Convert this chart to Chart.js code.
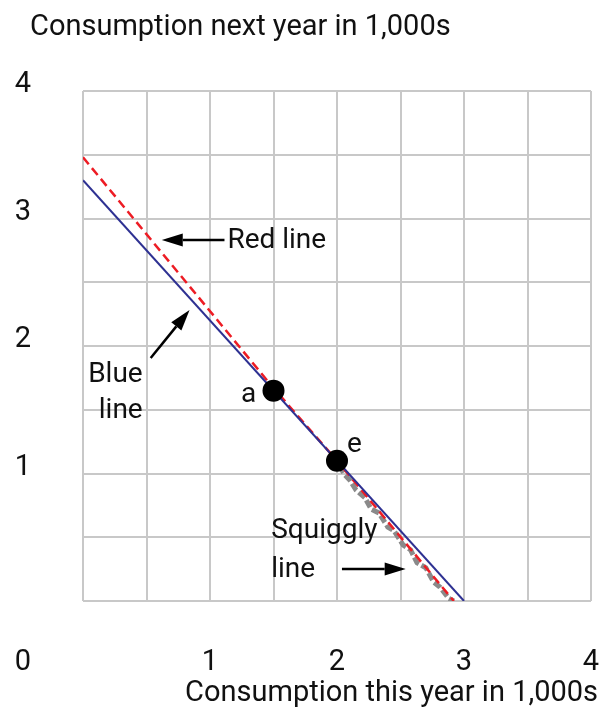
<!DOCTYPE html>
<html>
<head>
<meta charset="utf-8">
<script src="https://cdn.jsdelivr.net/npm/chart.js@4.4.1/dist/chart.umd.min.js"></script>
<style>
  body { margin: 0; background: #fff; }
  #wrap { width: 602px; height: 710px; }
</style>
</head>
<body>
<div id="wrap"><canvas id="grafico" width="602" height="710"></canvas></div>
<script>
// dados
const xTicks = [1, 2, 3, 4];
const yTicks = [1, 2, 3, 4];

const blueX = [0, 3];
const blueY = [3.3, 0];

const redX = [0, 1.5, 2, 2.92];
const redY = [3.48, 1.67, 1.1, 0];

const squigX = [2.02, 2.06, 2.10, 2.15, 2.22, 2.27, 2.33, 2.40, 2.45, 2.52, 2.58, 2.63, 2.70, 2.76, 2.81, 2.88, 2.92];
const squigY = [1.06, 0.99, 0.95, 0.87, 0.81, 0.72, 0.69, 0.58, 0.55, 0.44, 0.40, 0.30, 0.26, 0.15, 0.11, 0.02, 0.0];

const pontosNomes = ["a", "e"];
const pontosX = [1.5, 2.0];
const pontosY = [1.65, 1.1];

const tituloY = "Consumption next year in 1,000s";
const tituloX = "Consumption this year in 1,000s";

const FONTE = "'Roboto', 'Liberation Sans', sans-serif";

function pares(xs, ys) { return xs.map((x, i) => ({ x: x, y: ys[i] })); }

// textos e setas por cima do grafico (posicoes em unidades do grafico)
const textosPlugin = {
  id: "textos",
  afterDraw(chart) {
    const ctx = chart.ctx;
    const sx = chart.scales.x, sy = chart.scales.y;
    const px = v => sx.getPixelForValue(v);
    const py = v => sy.getPixelForValue(v);

    ctx.save();
    ctx.fillStyle = "#111";
    ctx.textBaseline = "alphabetic";

    // titulos
    ctx.font = "29px " + FONTE;
    ctx.textAlign = "left";
    ctx.fillText(tituloY, 30, 35);
    ctx.textAlign = "right";
    ctx.fillText(tituloX, 598, 701);

    // rotulos dos eixos
    ctx.textAlign = "center";
    yTicks.forEach(v => ctx.fillText(String(v), 23, py(v) + 1));
    ctx.fillText("0", 23, 670);
    xTicks.forEach(v => ctx.fillText(String(v), px(v), 670));

    // anotacoes
    ctx.font = "28px " + FONTE;
    ctx.textAlign = "left";
    ctx.fillText("Red line", px(1.137), py(2.77));
    ctx.textAlign = "right";
    ctx.fillText("Blue", px(0.47), py(1.718));
    ctx.fillText("line", px(0.47), py(1.435));
    ctx.fillText(pontosNomes[0], px(1.365), py(1.561));
    ctx.textAlign = "left";
    ctx.fillText(pontosNomes[1], px(2.078), py(1.169));
    ctx.fillText("Squiggly", px(1.482), py(0.494));
    ctx.fillText("line", px(1.482), py(0.188));

    seta(ctx, px(1.114), py(2.831), px(0.62), py(2.831));
    seta(ctx, px(0.533), py(1.906), px(0.839), py(2.282));
    seta(ctx, px(2.039), py(0.251), px(2.541), py(0.251));
    ctx.restore();
  }
};

function seta(ctx, x0, y0, x1, y1) {
  const ang = Math.atan2(y1 - y0, x1 - x0);
  const L = 21, W = 6.5;
  const bx = x1 - L * Math.cos(ang), by = y1 - L * Math.sin(ang);
  ctx.strokeStyle = "#000";
  ctx.lineWidth = 2.5;
  ctx.beginPath();
  ctx.moveTo(x0, y0);
  ctx.lineTo(bx, by);
  ctx.stroke();
  ctx.fillStyle = "#000";
  ctx.beginPath();
  ctx.moveTo(x1, y1);
  ctx.lineTo(bx - W * Math.sin(ang), by + W * Math.cos(ang));
  ctx.lineTo(bx + W * Math.sin(ang), by - W * Math.cos(ang));
  ctx.closePath();
  ctx.fill();
  ctx.fillStyle = "#111";
}

new Chart(document.getElementById("grafico"), {
  type: "scatter",
  data: {
    datasets: [
      {
        label: "pontos",
        data: pares(pontosX, pontosY),
        pointRadius: 11,
        pointBackgroundColor: "#000",
        pointBorderWidth: 0,
        showLine: false,
        order: 0
      },
      {
        label: "Blue line",
        data: pares(blueX, blueY),
        showLine: true,
        borderColor: "#2e3192",
        borderWidth: 2,
        pointRadius: 0,
        order: 1
      },
      {
        label: "Red line",
        data: pares(redX, redY),
        showLine: true,
        borderColor: "#ed1c24",
        borderWidth: 2.5,
        borderDash: [9, 5],
        pointRadius: 0,
        order: 2
      },
      {
        label: "Squiggly line",
        data: pares(squigX, squigY),
        showLine: true,
        borderColor: "#8a8a8a",
        borderWidth: 5,
        borderDash: [8, 3],
        pointRadius: 0,
        order: 3
      }
    ]
  },
  options: {
    responsive: false,
    animation: false,
    devicePixelRatio: 1,
    layout: { padding: { left: 83, top: 91, right: 9, bottom: 109 } },
    plugins: { legend: { display: false }, tooltip: { enabled: false } },
    scales: {
      x: {
        type: "linear", min: 0, max: 4,
        ticks: { display: false, stepSize: 0.5 },
        grid: { color: "#c8c8c8", lineWidth: 2, drawTicks: false, tickLength: 0 },
        border: { display: false }
      },
      y: {
        type: "linear", min: 0, max: 4,
        ticks: { display: false, stepSize: 0.5 },
        grid: { color: "#c8c8c8", lineWidth: 2, drawTicks: false, tickLength: 0 },
        border: { display: false }
      }
    }
  },
  plugins: [textosPlugin]
});
</script>
</body>
</html>
